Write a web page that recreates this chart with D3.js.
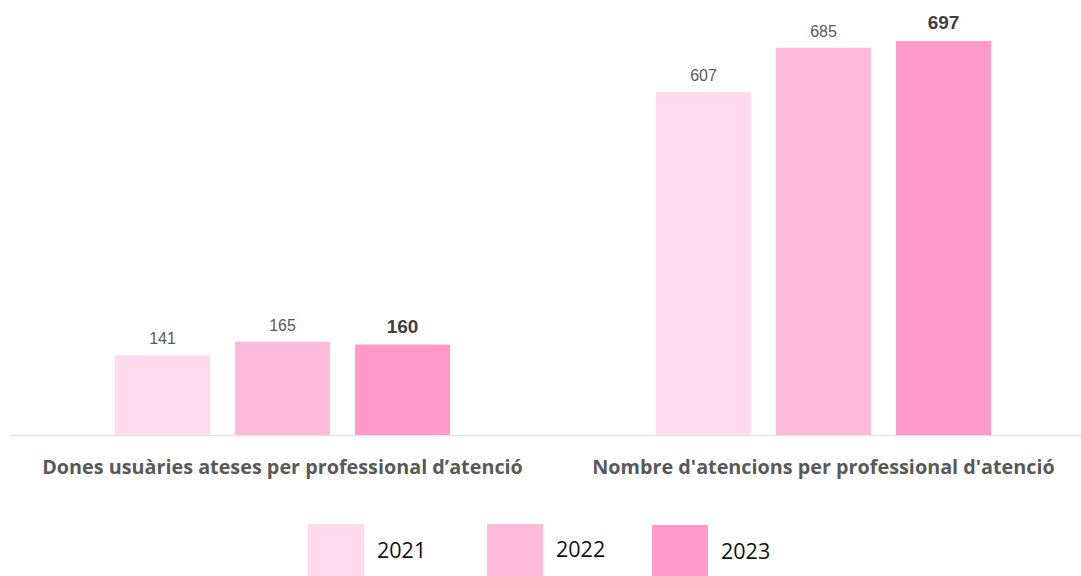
<!DOCTYPE html>
<html>
<head>
<meta charset="utf-8">
<script src="https://cdn.jsdelivr.net/npm/d3@7"></script>
<style>
  html, body { margin: 0; padding: 0; background: #fff; }
  svg { display: block; }
</style>
</head>
<body>
<svg id="chart" width="1081" height="576"></svg>
<script>
// Indicators compared across three years
const categories = [
  "Dones usuàries ateses per professional d’atenció",
  "Nombre d'atencions per professional d'atenció"
];
const years = ["2021", "2022", "2023"];
const values2021 = [141, 607];
const values2022 = [165, 685];
const values2023 = [160, 697];
const yearColors = ["#ffdbed", "#fdbadb", "#ff99ca"];

const seriesByYear = { "2021": values2021, "2022": values2022, "2023": values2023 };
const rows = categories.map((c, i) => ({
  category: c,
  bars: years.map(y => ({ year: y, value: seriesByYear[y][i] }))
}));

const svg = d3.select("#chart");
const baseY = 435;

const x0 = d3.scaleBand().domain(categories).range([12, 1094]).padding(0);
const x1 = d3.scaleBand().domain(years).range([103, 438]).paddingInner(0.2083).paddingOuter(0);
const y = d3.scaleLinear().domain([0, 697]).range([baseY, 41]);
const color = d3.scaleOrdinal().domain(years).range(yearColors);

// baseline
svg.append("line")
  .attr("x1", 10).attr("x2", 1081)
  .attr("y1", baseY + 0.5).attr("y2", baseY + 0.5)
  .attr("stroke", "#e3e3e3").attr("stroke-width", 1.5);

const groups = svg.selectAll("g.grp").data(rows).join("g")
  .attr("class", "grp")
  .attr("transform", d => `translate(${x0(d.category)},0)`);

groups.selectAll("rect").data(d => d.bars).join("rect")
  .attr("x", d => x1(d.year))
  .attr("width", x1.bandwidth())
  .attr("y", d => y(d.value))
  .attr("height", d => baseY - y(d.value))
  .attr("fill", d => color(d.year));

groups.selectAll("text.val").data(d => d.bars).join("text")
  .attr("class", "val")
  .attr("x", d => x1(d.year) + x1.bandwidth() / 2)
  .attr("y", d => y(d.value) - (d.year === "2023" ? 12 : 11))
  .attr("text-anchor", "middle")
  .attr("font-family", "Liberation Sans, Arial, sans-serif")
  .attr("font-size", d => d.year === "2023" ? 19 : 16)
  .attr("font-weight", d => d.year === "2023" ? "bold" : "normal")
  .attr("fill", d => d.year === "2023" ? "#404040" : "#595959")
  .text(d => d.value);

// category labels
svg.selectAll("text.cat").data(rows).join("text")
  .attr("class", "cat")
  .attr("x", d => x0(d.category) + x0.bandwidth() / 2)
  .attr("y", 474)
  .attr("text-anchor", "middle")
  .attr("font-family", "Open Sans, sans-serif")
  .attr("font-weight", "bold")
  .attr("font-size", 19.8)
  .attr("fill", "#595959")
  .text(d => d.category);

// legend
const legendX = [308, 487, 652];
const legendY = [524, 524, 525];
const legend = svg.selectAll("g.leg").data(years).join("g")
  .attr("class", "leg")
  .attr("transform", (d, i) => `translate(${legendX[i]},${legendY[i]})`);
legend.append("rect")
  .attr("width", 56).attr("height", 56)
  .attr("fill", d => color(d));
legend.append("text")
  .attr("x", 69)
  .attr("y", (d, i) => i === 1 ? 33 : 34)
  .attr("font-family", "Open Sans, sans-serif")
  .attr("font-size", 21.5)
  .attr("fill", "#111")
  .text(d => d);
</script>
</body>
</html>
